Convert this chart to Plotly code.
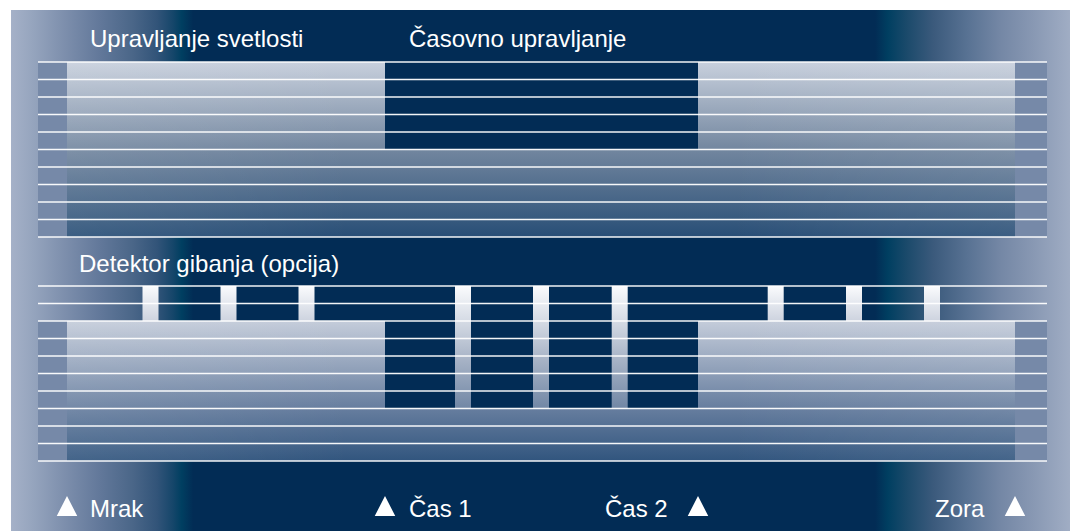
import plotly.graph_objects as go

# ---- data (x and y in chart units; the axes map them onto the canvas) ----
event_labels = ["Mrak", "Čas 1", "Čas 2", "Zora"]
event_x = [67, 385, 698, 1015]
pulse_x = [150.5, 228.5, 306.5, 463, 541, 619.7, 775.7, 854, 932]
top_lines_y = [62, 79.5, 97, 114.5, 132, 149.5, 167, 184.5, 202, 219.5, 237]
bottom_lines_y = [286, 303.5, 321, 338.5, 356, 373.5, 391, 408.5, 426, 443.5, 461]
section_titles = ["Upravljanje svetlosti", "Časovno upravljanje", "Detektor gibanja (opcija)"]
section_title_x = [88, 407, 77]
section_title_y = [38.5, 38.5, 263.5]
frame_x = [11, 1070]
frame_y = [10, 531]
line_span_x = [38, 1047]

W, H = 1077, 531
NAVY = "#022c55"
FONT = "Liberation Sans, Arial, sans-serif"
FS = 24


def rect(x0, x1, y0, y1):
    return [x0, x1, x1, x0, x0], [y0, y0, y1, y1, y0]


def poly_trace(xs, ys, **kw):
    return go.Scatter(x=xs, y=ys, mode="lines", fill="toself", line=dict(width=0),
                      hoverinfo="skip", showlegend=False, **kw)


fig = go.Figure()

# background with horizontal gradient
bx, by = rect(frame_x[0], frame_x[1], frame_y[0], frame_y[1])
bg_scale = [[0, "#a5b1c8"], [0.02, "#96a5be"], [0.053, "#7b8dab"], [0.084, "#62789a"],
            [0.115, "#4a6688"], [0.138, "#325479"], [0.153, "#15466a"], [0.161, "#003f61"],
            [0.172, NAVY], [0.816, NAVY], [0.828, "#003f61"], [0.846, "#1b4a6b"],
            [0.871, "#3b5a7c"], [0.903, "#587293"], [0.934, "#7487a5"], [0.965, "#8898b3"],
            [1, "#a0adc4"]]
fig.add_trace(poly_trace(bx, by, fillgradient=dict(type="horizontal", colorscale=bg_scale,
                                                    start=frame_x[0], stop=frame_x[1])))

sheen_scale = [[0, "rgba(255,255,255,0.09)"], [0.3, "rgba(255,255,255,0)"],
               [0.7, "rgba(255,255,255,0)"], [1, "rgba(255,255,255,0.09)"]]

# ---- top group: light control + time control ----
tx, ty = rect(line_span_x[0], line_span_x[1], top_lines_y[0], top_lines_y[-1])
fig.add_trace(poly_trace(tx, ty, fillcolor="#7689a8"))
lx, ly = rect(event_x[0], event_x[3], top_lines_y[0], top_lines_y[-1])
light_scale = [[0, "#c8d0dd"], [0.5, "#72869f"], [1, "#284e76"]]
fig.add_trace(poly_trace(lx, ly, fillgradient=dict(type="vertical", colorscale=light_scale,
                                                    start=top_lines_y[0], stop=top_lines_y[-1])))
fig.add_trace(poly_trace(lx, ly, fillgradient=dict(type="horizontal", colorscale=sheen_scale,
                                                    start=event_x[0], stop=event_x[3])))
dx, dy = rect(event_x[1], event_x[2], top_lines_y[0], top_lines_y[5])
fig.add_trace(poly_trace(dx, dy, fillcolor=NAVY))

# ---- bottom group: motion detector ----
tx, ty = rect(line_span_x[0], line_span_x[1], bottom_lines_y[2], bottom_lines_y[-1])
fig.add_trace(poly_trace(tx, ty, fillcolor="#7689a8"))
lx, ly = rect(event_x[0], event_x[3], bottom_lines_y[2], bottom_lines_y[-1])
light_scale2 = [[0, "#c4ccda"], [0.62, "#677e9f"], [1, "#31557e"]]
fig.add_trace(poly_trace(lx, ly, fillgradient=dict(type="vertical", colorscale=light_scale2,
                                                    start=bottom_lines_y[2], stop=bottom_lines_y[-1])))
fig.add_trace(poly_trace(lx, ly, fillgradient=dict(type="horizontal", colorscale=sheen_scale,
                                                    start=event_x[0], stop=event_x[3])))
dx, dy = rect(event_x[1], event_x[2], bottom_lines_y[2], bottom_lines_y[7])
fig.add_trace(poly_trace(dx, dy, fillcolor=NAVY))

PW = 16
short_x, short_y, long_x, long_y = [], [], [], []
for p in pulse_x:
    inside = event_x[1] < p < event_x[2]
    y1 = bottom_lines_y[7] if inside else bottom_lines_y[2]
    xs, ys = rect(p - PW / 2, p + PW / 2, bottom_lines_y[0], y1)
    if inside:
        long_x += xs + [None]; long_y += ys + [None]
    else:
        short_x += xs + [None]; short_y += ys + [None]
fig.add_trace(poly_trace(short_x, short_y, fillgradient=dict(
    type="vertical", colorscale=[[0, "#fafbfd"], [1, "#cdd3df"]],
    start=bottom_lines_y[0], stop=bottom_lines_y[2])))
fig.add_trace(poly_trace(long_x, long_y, fillgradient=dict(
    type="vertical", colorscale=[[0, "#fafbfd"], [0.3, "#d3d9e3"], [0.6, "#a7b3c6"], [1, "#7187a5"]],
    start=bottom_lines_y[0], stop=bottom_lines_y[7])))

# ---- horizontal white lines ----
hx, hy = [], []
for y in top_lines_y + bottom_lines_y:
    hx += [line_span_x[0], line_span_x[1], None]
    hy += [y, y, None]
fig.add_trace(go.Scatter(x=hx, y=hy, mode="lines", line=dict(color="rgba(255,255,255,0.95)", width=1.6),
                         hoverinfo="skip", showlegend=False))

# ---- event triangles ----
TRI_W, TRI_H, TRI_BASE = 20.5, 20, 516
trx, trY = [], []
for e in event_x:
    trx += [e - TRI_W / 2, e + TRI_W / 2, e, e - TRI_W / 2, None]
    trY += [TRI_BASE, TRI_BASE, TRI_BASE - TRI_H, TRI_BASE, None]
fig.add_trace(poly_trace(trx, trY, fillcolor="white"))

# ---- texts ----
for t, x, y in zip(section_titles, section_title_x, section_title_y):
    fig.add_annotation(x=x, y=y, text=t, showarrow=False, xanchor="left", yanchor="middle",
                       font=dict(family=FONT, size=FS, color="white"))
label_anchor = ["left", "left", "right", "right"]
label_shift = [21, 22, -28, -28]
for lab, x, a, s in zip(event_labels, event_x, label_anchor, label_shift):
    fig.add_annotation(x=x, y=508, text=lab, showarrow=False, xanchor=a, yanchor="middle",
                       xshift=s, font=dict(family=FONT, size=FS, color="white"))

fig.update_layout(
    width=W, height=H, margin=dict(l=0, r=0, t=0, b=0),
    paper_bgcolor="white", plot_bgcolor="white",
    xaxis=dict(range=[0, W], visible=False, fixedrange=True),
    yaxis=dict(range=[H, 0], visible=False, fixedrange=True),
    showlegend=False,
)
fig.write_html("out.html", config={"displayModeBar": False},
               post_script="document.body.style.margin='0';document.body.style.overflow='hidden';")
